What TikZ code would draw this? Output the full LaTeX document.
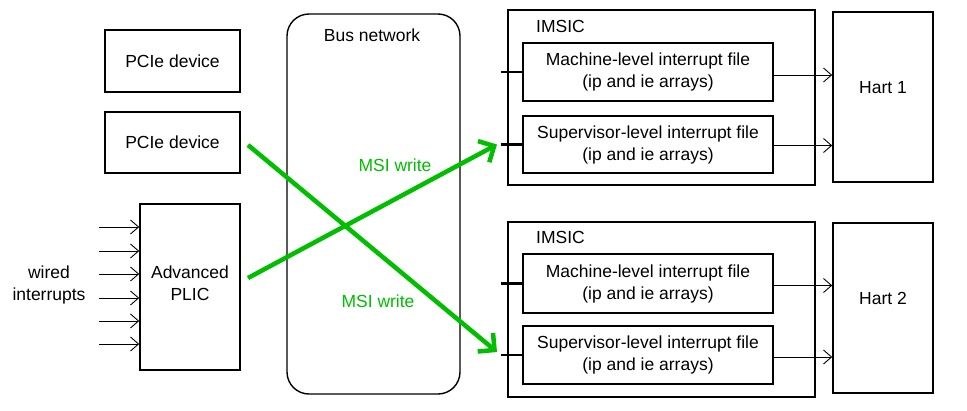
\documentclass[tikz,border=0pt]{standalone}
\usepackage{fontspec}
\setmainfont{Liberation Sans}
\usetikzlibrary{arrows.meta}
\definecolor{msigreen}{RGB}{0,190,0}
\begin{document}
\begin{tikzpicture}[x=1pt,y=-1pt,
  lbl/.style={font=\fontsize{17.5}{22}\selectfont, align=center, inner sep=1pt},
  box/.style={draw, line width=1.6pt, inner sep=0pt, lbl},
  bus/.style={draw, line width=1.4pt, rounded corners=22pt},
  wire/.style={line width=0.9pt, -{Straight Barb[length=8pt,width=14pt]}},
  stub/.style={line width=2.2pt},
  msi/.style={draw=msigreen, line width=4.5pt, -{Straight Barb[length=12pt,width=24pt]}},
  msilbl/.style={lbl, text=msigreen}]
\useasboundingbox (0,0) rectangle (967,410);

% devices and the platform-level interrupt controller
\node[box, minimum width=135pt, minimum height=62pt] (pcie1) at (172.5,61) {PCIe device};
\node[box, minimum width=135pt, minimum height=61pt] (pcie2) at (172.5,142.5) {PCIe device};
\node[box, minimum width=100pt, minimum height=166pt] (plic) at (190,287) {};
\node[lbl] (plict) at ([yshift=4pt]plic.center) {Advanced\\PLIC};

% wired interrupt inputs
\node[lbl] (wired) at (49,285) {wired\\interrupts};
\foreach \i/\yy in {1/227,2/251,3/274,4/298,5/321,6/344} {
  \coordinate (in\i) at (99,\yy);
  \draw[wire] (in\i) -- (in\i -| plic.west);
}

% bus network
\node[bus, minimum width=173pt, minimum height=380pt] (busnet) at (373.5,204) {};
\node[lbl] (bust) at (372,35) {Bus network};

% IMSIC 1
\node[box, minimum width=307pt, minimum height=175pt] (imsic1) at (661.5,97.5) {};
\node[lbl, anchor=west] (imsic1t) at (535,26) {IMSIC};
\node[box, minimum width=250pt, minimum height=58pt] (m1) at (648,72) {Machine-level interrupt file\\(ip and ie arrays)};
\node[box, minimum width=250pt, minimum height=57pt] (s1) at (648,144.5) {Supervisor-level interrupt file\\(ip and ie arrays)};

% IMSIC 2
\node[box, minimum width=307pt, minimum height=175pt] (imsic2) at (661.5,309.5) {};
\node[lbl, anchor=west] (imsic2t) at (535,237) {IMSIC};
\node[box, minimum width=250pt, minimum height=59pt] (m2) at (648,283.5) {Machine-level interrupt file\\(ip and ie arrays)};
\node[box, minimum width=250pt, minimum height=58pt] (s2) at (648,355) {Supervisor-level interrupt file\\(ip and ie arrays)};

% harts
\node[box, minimum width=100pt, minimum height=170pt] (h1) at (883,97) {};
\node[lbl] (h1t) at ([yshift=9pt]h1.center) {Hart 1};
\node[box, minimum width=100pt, minimum height=170pt] (h2) at (883,308) {};
\node[lbl] (h2t) at ([yshift=10pt]h2.center) {Hart 2};

% write ports of the interrupt files
\coordinate (st1) at (501,72);
\coordinate (st2) at (501,144.5);
\coordinate (st3) at (501,283.5);
\coordinate (st4) at (501,355);
\draw[stub] (st1) -- (m1.west);
\draw[stub] (st2) -- (s1.west);
\draw[stub] (st3) -- (m2.west);
\draw[stub] (st4) -- (s2.west);

% interrupt signals to the harts
\draw[wire] ([yshift=-3pt]m1.east) -- ([yshift=-3pt]m1.east -| h1.west);
\draw[wire] ([yshift=-1pt]s1.east) -- ([yshift=-1pt]s1.east -| h1.west);
\draw[wire] ([yshift=-2pt]m2.east) -- ([yshift=-2pt]m2.east -| h2.west);
\draw[wire] ([yshift=-2pt]s2.east) -- ([yshift=-2pt]s2.east -| h2.west);

% message-signalled interrupt writes
\coordinate (g1s) at (248,278);
\coordinate (g2s) at (248,145);
\draw[msi] (g1s) -- ([xshift=-4pt]st2);
\draw[msi] (g2s) -- ([xshift=-4pt,yshift=3pt]st4);
\node[msilbl] (msi1) at (395,165) {MSI write};
\node[msilbl] (msi2) at (378,301) {MSI write};
\end{tikzpicture}
\end{document}
